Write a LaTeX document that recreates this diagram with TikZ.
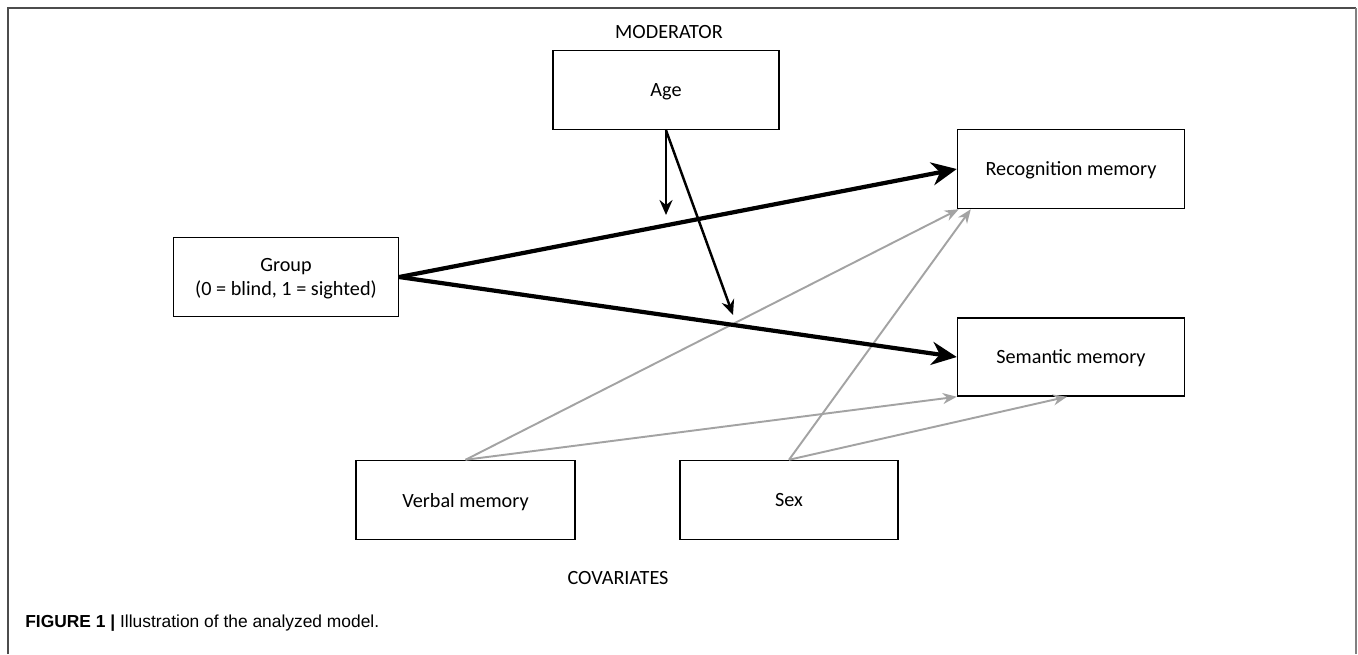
\documentclass[tikz,border=0pt]{standalone}
\usepackage{fontspec}
\setmainfont{Carlito}
\newfontfamily\capfont{Liberation Sans}
\usetikzlibrary{arrows.meta,calc}
\tikzset{
	box/.style={draw, line width=0.85pt, inner sep=0pt, minimum height=1.58cm, align=center, text depth=0pt, font=\fontsize{11.5}{13.6}\selectfont},
	label/.style={inner sep=0pt, font=\fontsize{11.5}{13.6}\selectfont},
	effect/.style={line width=2.4pt, -{Stealth[length=5mm, width=4.6mm, inset=1.6mm]}},
	moder/.style={line width=1.4pt, -{Stealth[length=3mm, width=2.6mm, inset=1mm]}},
	covar/.style={line width=1.1pt, draw=black!36, -{Stealth[length=2.8mm, width=2.2mm, inset=0.9mm]}}
}

\begin{document}
\begin{tikzpicture}[x=0.02cm, y=-0.02cm]
				\useasboundingbox (0,0) rectangle (1358,654);
				\draw[line width=1.1pt, black!70] (8,654) -- (8,8) -- (1356,8);
				\draw[line width=1.1pt, black!50] (1356,8) -- (1356,654);
				
				\node[label] (modlabel) at (669,32) {MODERATOR};
				\node[box, minimum width=4.52cm] (age) at (666,90) {Age};
				\node[box, minimum width=4.5cm] (group) at (286,277) {Group\\(0 = blind, 1 = sighted)};
				\node[box, minimum width=4.54cm] (recog) at (1071,169) {Recognition memory};
				\node[box, minimum width=4.54cm, minimum height=1.56cm] (sem) at (1071,357) {Semantic memory};
				\node[box, minimum width=4.38cm] (verbal) at (465.5,500) {Verbal memory};
				\node[box, minimum width=4.36cm] (sex) at (789,500) {Sex};
				\node[label] (covlabel) at (618,578) {COVARIATES};
				
				\coordinate (modA) at (666,215);
				\coordinate (modB) at (733,315);
				
				\draw[covar] (verbal.north) -- ($(recog.south west)+(2,0)$);
				\draw[covar] (sex.north) -- ($(recog.south west)+(14,0)$);
				\draw[covar] (verbal.north) -- (sem.south west);
				\draw[covar] (sex.north) -- ($(sem.south)+(-4,0)$);
				
				\draw[effect] (group.east) -- (recog.west);
				\draw[effect] (group.east) -- (sem.west);
				
				\draw[moder] (age.south) -- (modA);
				\draw[moder] (age.south) -- (modB);
				
				\node[anchor=west, inner sep=0pt, font=\capfont\fontsize{9.9}{12}\selectfont] (caption) at (25,623) {\textbf{FIGURE 1 |} Illustration of the analyzed model.};
			\end{tikzpicture}
\end{document}
